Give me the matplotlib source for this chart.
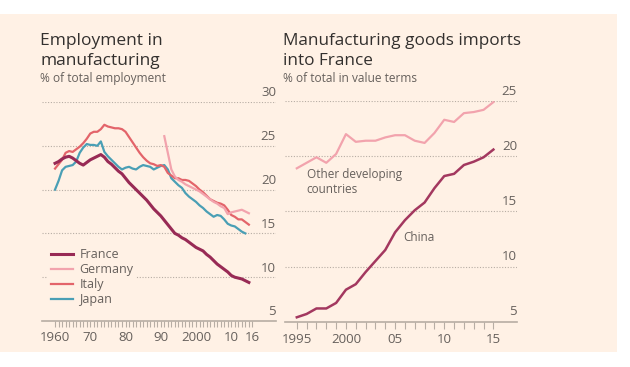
import matplotlib.pyplot as plt
from matplotlib.patches import Rectangle

BG = "#fff1e5"
TXT = "#66605c"
TITLE = "#33302e"
GRID = "#b7ada4"

# Employment in manufacturing, % of total employment
years_fr = list(range(1960, 2016))
france = [23.0, 23.2, 23.5, 23.7, 23.8, 23.6, 23.3, 23.0, 22.8, 23.1,
          23.4, 23.6, 23.8, 24.0, 23.7, 23.2, 22.9, 22.5, 22.1, 21.8,
          21.3, 20.8, 20.4, 20.0, 19.6, 19.2, 18.8, 18.3, 17.8, 17.4,
          17.0, 16.5, 16.0, 15.5, 15.0, 14.8, 14.5, 14.3, 14.0, 13.7,
          13.4, 13.2, 13.0, 12.6, 12.3, 11.9, 11.5, 11.2, 10.9, 10.6,
          10.2, 10.0, 9.9, 9.8, 9.6, 9.4]

years_it = list(range(1960, 2016))
italy = [22.4, 22.9, 23.4, 24.2, 24.4, 24.3, 24.6, 24.9, 25.3, 25.8,
         26.4, 26.6, 26.6, 26.9, 27.4, 27.2, 27.1, 27.0, 27.0, 26.9,
         26.6, 26.0, 25.4, 24.8, 24.2, 23.7, 23.3, 23.0, 22.9, 22.7,
         22.8, 22.6, 21.9, 21.6, 21.3, 21.3, 21.1, 21.1, 21.0, 20.7,
         20.4, 20.0, 19.7, 19.3, 18.9, 18.7, 18.5, 18.4, 18.2, 17.7,
         17.1, 16.9, 16.6, 16.6, 16.3, 16.0]

years_de = list(range(1991, 2016))
germany = [26.1, 24.2, 22.3, 21.5, 21.1, 20.9, 20.6, 20.4, 20.2, 20.0,
           19.8, 19.5, 19.2, 18.9, 18.6, 18.4, 18.1, 17.9, 17.2, 17.4,
           17.5, 17.6, 17.7, 17.5, 17.3]

years_jp = list(range(1960, 2015))
japan = [20.0, 21.0, 22.2, 22.6, 22.7, 22.8, 23.2, 24.2, 24.8, 25.2,
         25.1, 25.1, 25.0, 25.5, 24.3, 23.8, 23.4, 23.0, 22.6, 22.3,
         22.5, 22.6, 22.4, 22.3, 22.6, 22.8, 22.7, 22.6, 22.3, 22.5,
         22.7, 22.8, 22.3, 21.3, 20.9, 20.5, 20.2, 19.6, 19.2, 18.9,
         18.6, 18.2, 17.9, 17.5, 17.2, 16.9, 17.1, 17.0, 16.6, 16.1,
         15.9, 15.8, 15.5, 15.2, 15.0]

# Manufacturing goods imports into France, % of total in value terms
years_imp = list(range(1995, 2016))
china = [5.4, 5.7, 6.2, 6.2, 6.7, 7.9, 8.4, 9.5, 10.5, 11.5,
         13.1, 14.2, 15.1, 15.8, 17.1, 18.2, 18.4, 19.2, 19.5, 19.9, 20.6]
other_dev = [18.9, 19.4, 19.9, 19.4, 20.2, 22.0, 21.3, 21.4, 21.4, 21.7,
             21.9, 21.9, 21.4, 21.2, 22.1, 23.3, 23.1, 23.9, 24.0, 24.2, 24.9]

left_ticks = [5, 10, 15, 20, 25, 30]
left_xticks = [1960, 1970, 1980, 1990, 2000, 2010, 2016]
left_xlabels = ["1960", "70", "80", "90", "2000", "10", "16"]
right_ticks = [5, 10, 15, 20, 25]
right_xticks = [1995, 2000, 2005, 2010, 2015]
right_xlabels = ["1995", "2000", "05", "10", "15"]

plt.rcParams["font.family"] = ["Open Sans", "DejaVu Sans"]

W, H = 630, 367
fig = plt.figure(figsize=(W / 100, H / 100), dpi=100)
fig.patch.set_facecolor("white")
fig.add_artist(Rectangle((0, 1 - 352 / H), 617 / W, (352 - 14) / H,
                         transform=fig.transFigure, facecolor=BG,
                         edgecolor="none", zorder=0))


def px(x0, y0, x1, y1):
    # pixel box -> figure fraction [left, bottom, width, height]
    return [x0 / W, 1 - y1 / H, (x1 - x0) / W, (y1 - y0) / H]


def style(ax, yticks, xticks, xlabels, minor_years, ticklen):
    ax.set_facecolor("none")
    for s in ["top", "right", "left"]:
        ax.spines[s].set_visible(False)
    ax.spines["bottom"].set_color(GRID)
    ax.spines["bottom"].set_linewidth(1.2)
    ax.set_yticks([])
    x1 = ax.get_xlim()[1]
    for v in yticks[1:]:
        ax.axhline(v, color=GRID, lw=0.8, ls=(0, (1, 1.5)), zorder=1)
    for v in yticks:
        ax.text(x1, v + 0.3, str(v), ha="right", va="bottom",
                fontsize=9.5, color=TXT, clip_on=False)
    ax.set_xticks(minor_years, minor=True)
    ax.set_xticks(xticks)
    ax.set_xticklabels(xlabels)
    ax.tick_params(axis="x", which="both", length=ticklen, color=GRID,
                   width=0.8, direction="out", labelsize=9.5,
                   labelcolor=TXT, pad=3)


# left panel
ax1 = fig.add_axes(px(42, 102, 276, 321))
ax1.set_xlim(1956.3, 2022.7)
ax1.set_ylim(5, 30)
style(ax1, left_ticks, left_xticks, left_xlabels, list(range(1960, 2017)), 4)
ax1.plot(years_jp, japan, color="#4a9fb5", lw=1.6, zorder=3, label="Japan")
ax1.plot(years_it, italy, color="#e3646a", lw=1.6, zorder=3, label="Italy")
ax1.plot(years_de, germany, color="#f2a3ad", lw=1.6, zorder=3, label="Germany")
ax1.plot(years_fr, france, color="#982a55", lw=2.2, zorder=4, label="France")
h, l = ax1.get_legend_handles_labels()
order = [3, 2, 1, 0]
leg = ax1.legend([h[i] for i in order], [l[i] for i in order],
                 loc="upper left", bbox_to_anchor=(0.01, 0.36),
                 frameon=True, facecolor=BG, edgecolor="none", framealpha=1,
                 fontsize=9, labelcolor=TXT, handlelength=1.8,
                 handletextpad=0.5, labelspacing=0.15, borderpad=0.2,
                 borderaxespad=0.3)
leg.set_zorder(5)

fig.text(40 / W, 1 - 65 / H, "Employment in\nmanufacturing", fontsize=12.5,
         color=TITLE, ha="left", va="baseline", linespacing=1.3)
fig.text(40 / W, 1 - 82 / H, "% of total employment", fontsize=8.6,
         color=TXT, ha="left", va="baseline")

# right panel
ax2 = fig.add_axes(px(285, 101, 517, 321.7))
ax2.set_xlim(1993.8, 2017.4)
ax2.set_ylim(5, 25)
style(ax2, right_ticks, right_xticks, right_xlabels, years_imp, 5)
ax2.plot(years_imp, other_dev, color="#f2a3ad", lw=1.6, zorder=3)
ax2.plot(years_imp, china, color="#a3385f", lw=1.8, zorder=3)
ax2.text(1996.0, 18.9, "Other developing\ncountries", fontsize=8.5,
         color=TXT, ha="left", va="top", linespacing=1.2)
ax2.text(2005.8, 12.6, "China", fontsize=8.5, color=TXT, ha="left",
         va="center")

fig.text(283 / W, 1 - 65 / H, "Manufacturing goods imports\ninto France",
         fontsize=12.3, color=TITLE, ha="left", va="baseline",
         linespacing=1.3)
fig.text(283 / W, 1 - 82 / H, "% of total in value terms", fontsize=8.6,
         color=TXT, ha="left", va="baseline")

fig.savefig("out.png", dpi=100, facecolor="white")
